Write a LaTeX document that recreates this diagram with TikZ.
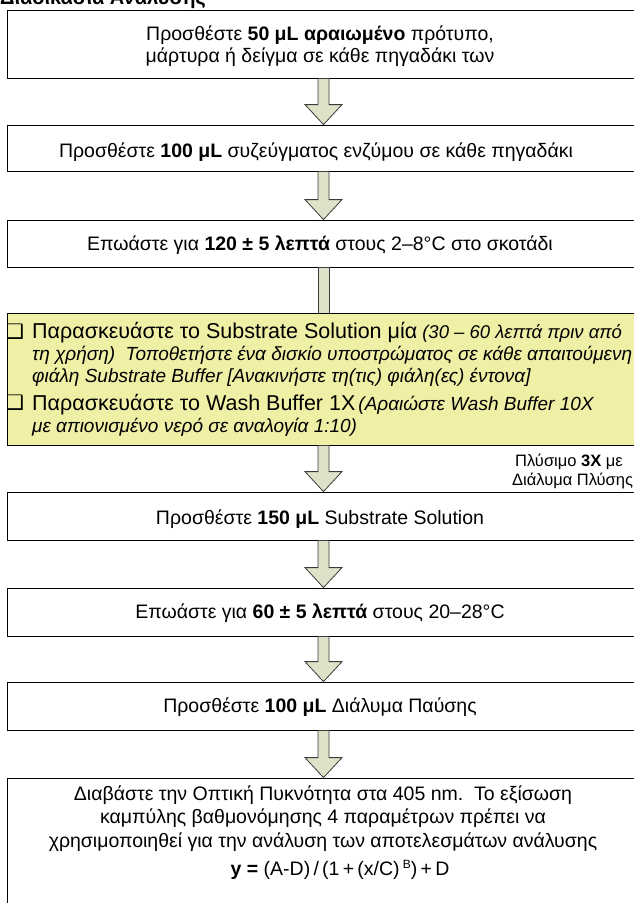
\documentclass[tikz,border=0pt]{standalone}
\usepackage{fontspec}
\setmainfont{Liberation Sans}
\newfontfamily\symfont{DejaVu Sans}
\usetikzlibrary{calc}
\definecolor{arrowfill}{RGB}{221,226,200}
\definecolor{arrowline}{RGB}{60,60,60}
\definecolor{yellowfill}{RGB}{239,239,166}
\tikzset{
  stepbox/.style={draw=black, line width=0.8pt, fill=white, minimum width=633pt, inner sep=0pt},
  yellowbox/.style={draw=black, line width=0.8pt, fill=yellowfill, minimum width=633pt, inner sep=0pt},
  arrowshape/.style={draw=arrowline, fill=arrowfill, line width=0.8pt, line join=miter},
  mainline/.style={font=\fontsize{19.5}{22}\selectfont, inner sep=0pt},
  itline/.style={font=\fontsize{19}{22}\selectfont\itshape, inner sep=0pt},
  sideline/.style={font=\fontsize{16.5}{20}\selectfont, inner sep=0pt},
  chk/.style={font=\symfont\fontsize{20}{20}\selectfont, inner sep=0pt}
}
\newcommand\flowarrow[2]{%
  \path[arrowshape] let \p1=(#1.south), \p2=(#2.north) in
    (\x1-5.5pt,\y1) -- (\x1+5.5pt,\y1) -- (\x1+5.5pt,\y2+20pt) -- (\x1+18.5pt,\y2+20pt)
    -- (\x1,\y2) -- (\x1-18.5pt,\y2+20pt) -- (\x1-5.5pt,\y2+20pt) -- cycle;}
\begin{document}
\begin{tikzpicture}[x=1pt,y=-1pt]
\useasboundingbox (0,0) rectangle (634,903);
\fill[white] (0,0) rectangle (634,903);
% title (cut off at the top, as in the reference)
\node[anchor=base west, inner sep=0pt, font=\bfseries\fontsize{20}{20}\selectfont] (title) at (0,4) {Διαδικασία Ανάλυσης};

% boxes
\node[stepbox, minimum height=68pt] (b1) at (323.5,44) {};
\node[mainline, anchor=base] (t1a) at (320,40) {Προσθέστε \textbf{50 μL αραιωμένο} πρότυπο,};
\node[mainline, anchor=base] (t1b) at (320,62) {μάρτυρα ή δείγμα σε κάθε πηγαδάκι των};

\node[stepbox, minimum height=46pt] (b2) at (323.5,148) {};
\node[mainline, anchor=base] (t2) at (316,157) {Προσθέστε \textbf{100 μL} συζεύγματος ενζύμου σε κάθε πηγαδάκι};

\node[stepbox, minimum height=47pt] (b3) at (323.5,243.5) {};
\node[mainline, anchor=base] (t3) at (320,250) {Επωάστε για \textbf{120 ± 5 λεπτά} στους 2–8°C στο σκοτάδι};

% shaft from box 3 to the yellow box
\path[arrowshape] let \p1=(b3.south) in (\x1-5.5pt,\y1) rectangle (\x1+5.5pt,\y1-46pt);

\node[yellowbox, minimum height=132pt] (yb) at (323.5,379) {};
\node[chk, anchor=base] (c1) at (15,338) {❑};
\node[chk, anchor=base] (c2) at (15,409) {❑};
\node[anchor=base west, inner sep=0pt] (y1) at (32,338) {{\fontsize{21.5}{24}\selectfont Παρασκευάστε το Substrate Solution μία}\hspace{0.5em}{\fontsize{18.5}{22}\selectfont\itshape (30 – 60 λεπτά πριν από}};
\node[itline, anchor=base west] (y2) at (32,360) {τη χρήση)\hspace{0.55em}Τοποθετήστε ένα δισκίο υποστρώματος σε κάθε απαιτούμενη};
\node[itline, anchor=base west] (y3) at (32,382) {φιάλη Substrate Buffer [Ανακινήστε τη(τις) φιάλη(ες) έντονα]};
\node[anchor=base west, inner sep=0pt] (y4) at (32,410) {{\fontsize{21.5}{24}\selectfont Παρασκευάστε το Wash Buffer 1X}\hspace{0.3em}{\fontsize{19}{22}\selectfont\itshape (Αραιώστε Wash Buffer 10X}};
\node[itline, anchor=base west] (y5) at (32,432) {με απιονισμένο νερό σε αναλογία 1:10)};

\node[stepbox, minimum height=48pt] (b4) at (323.5,516) {};
\node[mainline, anchor=base] (t4) at (320,524) {Προσθέστε \textbf{150 μL} Substrate Solution};

\node[sideline, anchor=base west] (s1) at (515,466) {Πλύσιμο \textbf{3X} με};
\node[sideline, anchor=base west] (s2) at (512,485) {Διάλυμα Πλύσης};

\node[stepbox, minimum height=48pt] (b5) at (323.5,612) {};
\node[mainline, anchor=base] (t5) at (320,618) {Επωάστε για \textbf{60 ± 5 λεπτά} στους 20–28°C};

\node[stepbox, minimum height=48pt] (b6) at (323.5,706) {};
\node[mainline, anchor=base] (t6) at (320,712) {Προσθέστε \textbf{100 μL} Διάλυμα Παύσης};

\node[stepbox, minimum height=142pt] (b7) at (323.5,849) {};
\node[mainline, anchor=base] (t7a) at (323,800) {Διαβάστε την Οπτική Πυκνότητα στα 405 nm.\hspace{0.55em}Το εξίσωση};
\node[mainline, anchor=base] (t7b) at (323,823) {καμπύλης βαθμονόμησης 4 παραμέτρων πρέπει να};
\node[mainline, anchor=base] (t7c) at (323,847) {χρησιμοποιηθεί για την ανάλυση των αποτελεσμάτων ανάλυσης};
\node[mainline, anchor=base] (t7d) at (340,875) {\textbf{y =} (A-D)\,/\,(1\,+\,(x/C)\,\raisebox{0.65ex}{\fontsize{12}{12}\selectfont B})\,+\,D};

% arrows
\flowarrow{b1}{b2}
\flowarrow{b2}{b3}
\flowarrow{yb}{b4}
\flowarrow{b4}{b5}
\flowarrow{b5}{b6}
\flowarrow{b6}{b7}
\end{tikzpicture}
\end{document}
